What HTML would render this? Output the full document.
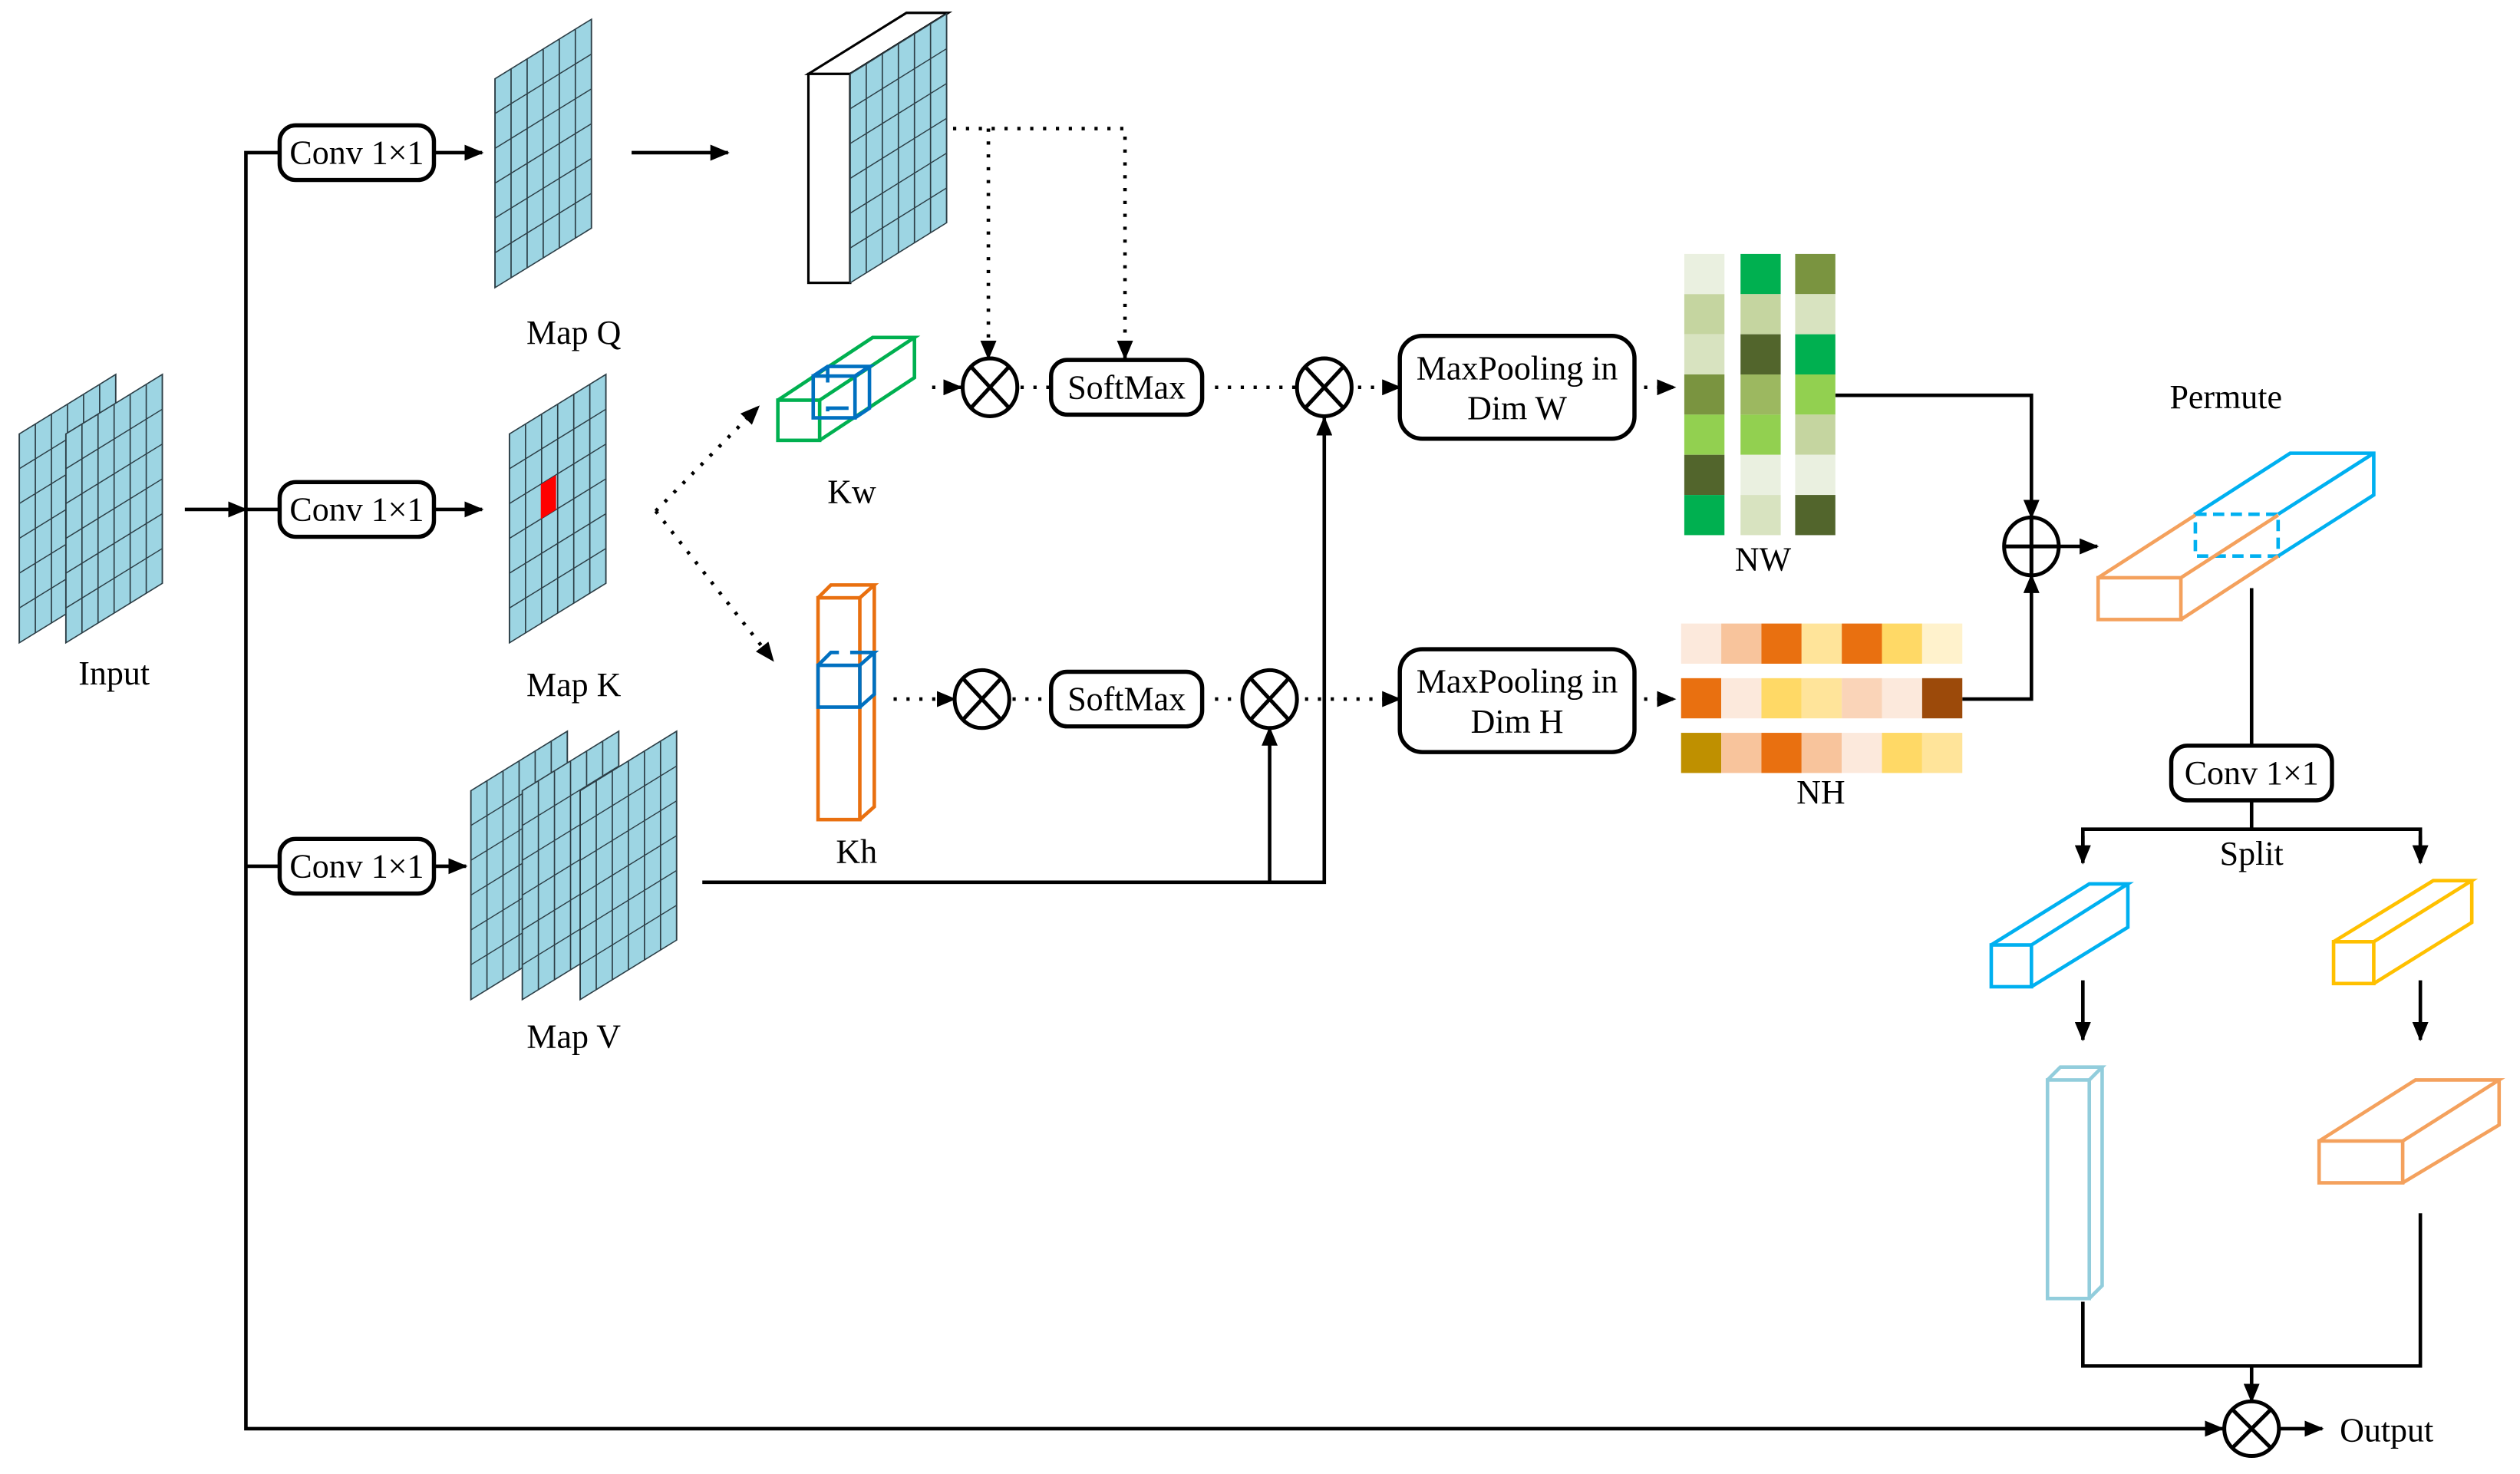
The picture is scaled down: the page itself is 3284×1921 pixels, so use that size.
<!DOCTYPE html>
<html><head><meta charset="utf-8"><style>html,body{margin:0;padding:0;background:#fff}svg{display:block}</style></head>
<body>
<svg width="3284" height="1921" viewBox="0 0 1568 917.2" preserveAspectRatio="none" xmlns="http://www.w3.org/2000/svg" font-family="'Liberation Serif', serif" font-size="21">
<defs>
<marker id="a" markerUnits="userSpaceOnUse" markerWidth="12" markerHeight="10" refX="11" refY="5" orient="auto"><path d="M0,0L12,5L0,10z" fill="#000"/></marker>
<g id="grid">
<rect width="60" height="130" fill="#9DD5E3" stroke="#2c3e46" stroke-width="0.9"/>
<path d="M10,0V130M20,0V130M30,0V130M40,0V130M50,0V130M0,21.67H60M0,43.33H60M0,65H60M0,86.67H60M0,108.33H60" stroke="#2c3e46" stroke-width="0.8" fill="none"/>
</g>
</defs>
<g fill="none" stroke="#000" stroke-width="2.2">
<!-- main lines -->
<path d="M174,95H153V889H1383" marker-end="url(#a)"/>
<path d="M153,317H174"/><path d="M153,539H174"/>
<path d="M115,317H153" marker-end="url(#a)"/>
<path d="M270,95H300" marker-end="url(#a)"/>
<path d="M270,317H300" marker-end="url(#a)"/>
<path d="M270,539H290" marker-end="url(#a)"/>
<path d="M393,95H453" marker-end="url(#a)"/>
<path d="M437,549H824V260" marker-end="url(#a)"/>
<path d="M790,549V453" marker-end="url(#a)"/>
<path d="M1142,246H1264V322" marker-end="url(#a)"/>
<path d="M1221,435H1264V358" marker-end="url(#a)"/>
<path d="M1281,340H1305" marker-end="url(#a)"/>
<path d="M1401,366V464"/><path d="M1401,498V516"/>
<path d="M1296,535V516H1506V535" />
<path d="M1296,520V537" marker-end="url(#a)"/><path d="M1506,520V537" marker-end="url(#a)"/>
<path d="M1296,610V647" marker-end="url(#a)"/><path d="M1506,610V647" marker-end="url(#a)"/>
<path d="M1296,810V850H1506V755"/>
<path d="M1401,850V872" marker-end="url(#a)"/>
<path d="M1418,889H1445" marker-end="url(#a)"/>
</g>
<!-- dotted -->
<g fill="none" stroke="#000" stroke-width="2.2" stroke-dasharray="2 6">
<path d="M593,80H700V223" marker-end="url(#a)"/>
<path d="M615,80V223" marker-end="url(#a)"/>
<path d="M408,318L472,253" marker-end="url(#a)"/>
<path d="M408,318L481,411" marker-end="url(#a)"/>
<path d="M580,241H598" marker-end="url(#a)"/>
<path d="M635,241H654"/>
<path d="M756,241H807"/>
<path d="M845,241H871" marker-end="url(#a)"/>
<path d="M1023,241H1042" marker-end="url(#a)"/>
<path d="M556,435H594" marker-end="url(#a)"/>
<path d="M630,435H654"/>
<path d="M756,435H773"/>
<path d="M812,435H871" marker-end="url(#a)"/>
<path d="M1023,435H1042" marker-end="url(#a)"/>
</g>
<!-- grids -->
<use href="#grid" transform="matrix(1,-0.617,0,1,12,270)"/>
<use href="#grid" transform="matrix(1,-0.617,0,1,41,270)"/>
<use href="#grid" transform="matrix(1,-0.617,0,1,308,179) translate(0,-130)"/>
<g transform="matrix(1,-0.617,0,1,317,270)"><use href="#grid"/><rect x="19.5" y="43.5" width="9.5" height="21.5" fill="#f00"/></g>
<use href="#grid" transform="matrix(1,-0.617,0,1,293,492)"/>
<use href="#grid" transform="matrix(1,-0.617,0,1,325,492)"/>
<use href="#grid" transform="matrix(1,-0.617,0,1,361,492)"/>
<!-- Q block -->
<path d="M503,46L564,8H590L529,46Z" fill="#fff" stroke="#000" stroke-width="1.5"/>
<rect x="503" y="46" width="26" height="130" fill="#fff" stroke="#000" stroke-width="1.5"/>
<use href="#grid" transform="matrix(1,-0.623,0,1,529,46)"/>
<!-- Kw -->
<g fill="none" stroke="#00B050" stroke-width="2.2">
<rect x="484" y="249" width="26" height="25"/>
<path d="M484,249L543,210H569L510,249M569,210V235L510,274"/>
</g>
<g fill="none" stroke="#0070C0" stroke-width="2.2">
<rect x="506" y="234" width="26" height="26"/>
<path d="M506,234L515,228H541L532,234M541,228V254L532,260M515,228V238M515,256V254H528"/>
</g>
<!-- Kh -->
<g fill="none" stroke="#E97010" stroke-width="2.2">
<rect x="509" y="372" width="26" height="138"/>
<path d="M509,372L517,364H544L535,372M544,364V502L535,510"/>
</g>
<g fill="none" stroke="#0070C0" stroke-width="2.2">
<rect x="509" y="414" width="26" height="26"/>
<path d="M509,414L517,406H522M529,406H544L535,414M544,406V432L535,440"/>
</g>
<!-- boxes -->
<g fill="#fff" stroke="#000" stroke-width="2.6">
<rect x="174" y="78" width="96" height="34" rx="10"/>
<rect x="174" y="300" width="96" height="34" rx="10"/>
<rect x="174" y="522" width="96" height="34" rx="10"/>
<rect x="654" y="224" width="94" height="34" rx="10"/>
<rect x="654" y="418" width="94" height="34" rx="10"/>
<rect x="871" y="209" width="146" height="64" rx="14"/>
<rect x="871" y="404" width="146" height="64" rx="14"/>
<rect x="1351" y="464" width="100" height="34" rx="10"/>
</g>
<!-- circles -->
<g fill="#fff" stroke="#000" stroke-width="2.4">
<g transform="translate(616,241)"><ellipse rx="17" ry="18"/><path d="M-12,-13L12,13M12,-13L-12,13"/></g>
<g transform="translate(824,241)"><ellipse rx="17" ry="18"/><path d="M-12,-13L12,13M12,-13L-12,13"/></g>
<g transform="translate(611,435)"><ellipse rx="17" ry="18"/><path d="M-12,-13L12,13M12,-13L-12,13"/></g>
<g transform="translate(790,435)"><ellipse rx="17" ry="18"/><path d="M-12,-13L12,13M12,-13L-12,13"/></g>
<g transform="translate(1401,889)"><ellipse rx="17" ry="17"/><path d="M-12,-12L12,12M12,-12L-12,12"/></g>
<g transform="translate(1264,340)"><ellipse rx="17" ry="18"/><path d="M-17,0H17M0,-18V18"/></g>
</g>
<!-- NW -->
<g>
<rect x="1048" y="158" width="25" height="25" fill="#EAF0E0"/><rect x="1048" y="183" width="25" height="25" fill="#C5D5A0"/><rect x="1048" y="208" width="25" height="25" fill="#D8E3C0"/><rect x="1048" y="233" width="25" height="25" fill="#7A9440"/><rect x="1048" y="258" width="25" height="25" fill="#92D050"/><rect x="1048" y="283" width="25" height="25" fill="#52652C"/><rect x="1048" y="308" width="25" height="25" fill="#00B050"/>
<rect x="1083" y="158" width="25" height="25" fill="#00B050"/><rect x="1083" y="183" width="25" height="25" fill="#C5D5A0"/><rect x="1083" y="208" width="25" height="25" fill="#52652C"/><rect x="1083" y="233" width="25" height="25" fill="#9CB860"/><rect x="1083" y="258" width="25" height="25" fill="#92D050"/><rect x="1083" y="283" width="25" height="25" fill="#EAF0E0"/><rect x="1083" y="308" width="25" height="25" fill="#D8E3C0"/>
<rect x="1117" y="158" width="25" height="25" fill="#7A9440"/><rect x="1117" y="183" width="25" height="25" fill="#D8E3C0"/><rect x="1117" y="208" width="25" height="25" fill="#00B050"/><rect x="1117" y="233" width="25" height="25" fill="#92D050"/><rect x="1117" y="258" width="25" height="25" fill="#C5D5A0"/><rect x="1117" y="283" width="25" height="25" fill="#EAF0E0"/><rect x="1117" y="308" width="25" height="25" fill="#52652C"/>
</g>
<!-- NH -->
<g>
<rect x="1046" y="388" width="25" height="25" fill="#FCE9DC"/><rect x="1071" y="388" width="25" height="25" fill="#F8C49C"/><rect x="1096" y="388" width="25" height="25" fill="#E97010"/><rect x="1121" y="388" width="25" height="25" fill="#FFE49A"/><rect x="1146" y="388" width="25" height="25" fill="#E97010"/><rect x="1171" y="388" width="25" height="25" fill="#FFD966"/><rect x="1196" y="388" width="25" height="25" fill="#FFF2CC"/>
<rect x="1046" y="422" width="25" height="25" fill="#E97010"/><rect x="1071" y="422" width="25" height="25" fill="#FCE9DC"/><rect x="1096" y="422" width="25" height="25" fill="#FFD966"/><rect x="1121" y="422" width="25" height="25" fill="#FFE49A"/><rect x="1146" y="422" width="25" height="25" fill="#FAD4B8"/><rect x="1171" y="422" width="25" height="25" fill="#FCE9DC"/><rect x="1196" y="422" width="25" height="25" fill="#9C4A0A"/>
<rect x="1046" y="456" width="25" height="25" fill="#BF9000"/><rect x="1071" y="456" width="25" height="25" fill="#F8C49C"/><rect x="1096" y="456" width="25" height="25" fill="#E97010"/><rect x="1121" y="456" width="25" height="25" fill="#F8C49C"/><rect x="1146" y="456" width="25" height="25" fill="#FCE9DC"/><rect x="1171" y="456" width="25" height="25" fill="#FFD966"/><rect x="1196" y="456" width="25" height="25" fill="#FFE49A"/>
</g>
<!-- Permute block -->
<g fill="none" stroke-width="2.2">
<path d="M1366,320L1425,282H1477V308L1417.5,346M1417.5,320L1477,282" stroke="#00B0F0"/>
<rect x="1366" y="320" width="51.5" height="26" stroke="#00B0F0" stroke-dasharray="7 4"/>
<rect x="1305.5" y="359.5" width="51.5" height="26" stroke="#F4A15D"/>
<path d="M1305.5,359.5L1366,320.5M1357,359.5L1417.5,320.5M1357,385.5L1417.5,346" stroke="#F4A15D"/>
<!-- split boxes -->
<rect x="1239" y="588" width="25" height="26" stroke="#00B0F0"/>
<path d="M1239,588L1300,550H1324L1264,588M1324,550V577L1264,614" stroke="#00B0F0"/>
<rect x="1452" y="586" width="25" height="26" stroke="#FFC000"/>
<path d="M1452,586L1514,548H1538L1477,586M1538,548V574L1477,612" stroke="#FFC000"/>
<rect x="1274" y="672" width="26" height="136" stroke="#92CDDC"/>
<path d="M1274,672L1282,664H1308L1300,672M1308,664V800L1300,808" stroke="#92CDDC"/>
<rect x="1443" y="710" width="52" height="26" stroke="#F4A15D"/>
<path d="M1443,710L1503,672H1555L1495,710M1555,672V700L1495,736" stroke="#F4A15D"/>
</g>
<!-- text -->
<g text-anchor="middle" fill="#000">
<text x="222" y="102">Conv 1×1</text>
<text x="222" y="324">Conv 1×1</text>
<text x="222" y="546">Conv 1×1</text>
<text x="701" y="248">SoftMax</text>
<text x="701" y="442">SoftMax</text>
<text x="944" y="236">MaxPooling in</text>
<text x="944" y="261">Dim W</text>
<text x="944" y="431">MaxPooling in</text>
<text x="944" y="456">Dim H</text>
<text x="1401" y="488">Conv 1×1</text>
<text x="71" y="426">Input</text>
<text x="357" y="214">Map Q</text>
<text x="357" y="433">Map K</text>
<text x="357" y="652">Map V</text>
<text x="530" y="313">Kw</text>
<text x="533" y="537">Kh</text>
<text x="1097" y="355">NW</text>
<text x="1133" y="500">NH</text>
<text x="1385" y="254">Permute</text>
<text x="1401" y="538">Split</text>
<text x="1485" y="897">Output</text>
</g>
</svg>
</body></html>
